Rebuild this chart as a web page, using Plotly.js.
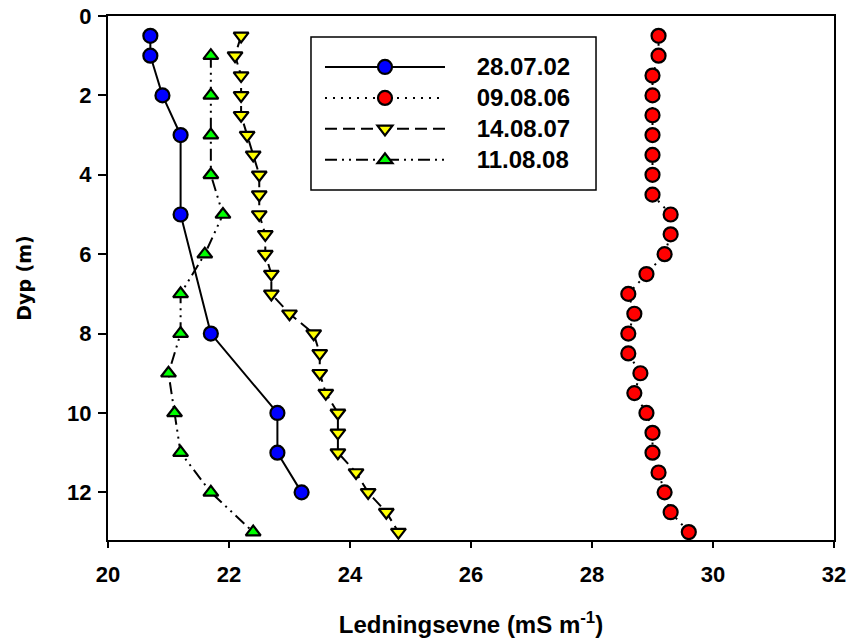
<!DOCTYPE html>
<html>
<head>
<meta charset="utf-8">
<script src="https://cdn.plot.ly/plotly-3.0.1.min.js"></script>
<style>
  html, body { margin: 0; padding: 0; background: #fff; }
  #chart { width: 854px; height: 642px; }
</style>
</head>
<body>
<div id="chart"></div>
<script>
// Conductivity profiles (mS m-1) against depth (m) for four sampling dates
const names = ['28.07.02', '09.08.06', '14.08.07', '11.08.08'];

const depth020728 = [0.5, 1, 2, 3, 5, 8, 10, 11, 12];
const cond020728  = [20.7, 20.7, 20.9, 21.2, 21.2, 21.7, 22.8, 22.8, 23.2];

const depth060809 = [0.5, 1, 1.5, 2, 2.5, 3, 3.5, 4, 4.5, 5, 5.5, 6, 6.5, 7,
                     7.5, 8, 8.5, 9, 9.5, 10, 10.5, 11, 11.5, 12, 12.5, 13];
const cond060809  = [29.1, 29.1, 29.0, 29.0, 29.0, 29.0, 29.0, 29.0, 29.0, 29.3, 29.3, 29.2, 28.9, 28.6,
                     28.7, 28.6, 28.6, 28.8, 28.7, 28.9, 29.0, 29.0, 29.1, 29.2, 29.3, 29.6];

const depth070814 = [0.5, 1, 1.5, 2, 2.5, 3, 3.5, 4, 4.5, 5, 5.5, 6, 6.5, 7,
                     7.5, 8, 8.5, 9, 9.5, 10, 10.5, 11, 11.5, 12, 12.5, 13];
const cond070814  = [22.2, 22.1, 22.2, 22.2, 22.2, 22.3, 22.4, 22.5, 22.5, 22.5, 22.6, 22.6, 22.7, 22.7,
                     23.0, 23.4, 23.5, 23.5, 23.6, 23.8, 23.8, 23.8, 24.1, 24.3, 24.6, 24.8];

const depth080811 = [1, 2, 3, 4, 5, 6, 7, 8, 9, 10, 11, 12, 13];
const cond080811  = [21.7, 21.7, 21.7, 21.7, 21.9, 21.6, 21.2, 21.2, 21.0, 21.1, 21.2, 21.7, 22.4];

const xTicks = [20, 22, 24, 26, 28, 30, 32];
const yTicks = [0, 2, 4, 6, 8, 10, 12];

const FONT = 'Liberation Sans, Arial, sans-serif';
const mline = { color: '#000', width: 2.2 };

// legend labels: a little leading space and a larger rendered size
const label = s => '<span style="font-size:24px">\u00a0\u00a0\u00a0\u00a0' + s + '\u00a0\u00a0</span>';

const traces = [
  {
    x: cond020728, y: depth020728, name: label(names[0]), mode: 'lines+markers',
    line: { color: '#000', width: 2, dash: 'solid' },
    marker: { symbol: 'circle', size: 14, color: '#0000ff', line: mline }
  },
  {
    x: cond060809, y: depth060809, name: label(names[1]), mode: 'lines+markers',
    line: { color: '#000', width: 2, dash: '2px,6px' },
    marker: { symbol: 'circle', size: 14, color: '#ff0000', line: mline }
  },
  {
    x: cond070814, y: depth070814, name: label(names[2]), mode: 'lines+markers',
    line: { color: '#000', width: 2, dash: '12px,6px' },
    marker: { symbol: 'triangle-down', size: 13, color: '#ffff00', line: mline }
  },
  {
    x: cond080811, y: depth080811, name: label(names[3]), mode: 'lines+markers',
    line: { color: '#000', width: 2, dash: '12px,5px,2px,5px,2px,5px' },
    marker: { symbol: 'triangle-up', size: 13, color: '#00ff00', line: mline }
  }
];

const layout = {
  width: 854, height: 642,
  margin: { l: 108, r: 20, t: 16, b: 102 },
  paper_bgcolor: '#fff', plot_bgcolor: '#fff',
  font: { family: FONT, color: '#000', size: 22, weight: 'bold' },
  showlegend: true,
  legend: {
    x: 0.2920, y: 0.9418, xanchor: 'left', yanchor: 'top',
    bgcolor: 'rgba(0,0,0,0)', borderwidth: 0,
    itemwidth: 120,
    font: { family: FONT, size: 21.5, color: '#000', weight: 'bold' },
    tracegroupgap: 0
  },
  // legend frame
  shapes: [{
    type: 'rect', xref: 'paper', yref: 'paper', layer: 'below',
    x0: 0.2796, x1: 0.6722, y0: 0.6679, y1: 0.9599,
    line: { color: '#000', width: 1.5 }, fillcolor: '#fff'
  }],
  xaxis: {
    range: [20, 32], tickmode: 'array', tickvals: xTicks, ticktext: xTicks.map(String),
    showgrid: false, zeroline: false,
    showline: true, linecolor: '#000', linewidth: 2, mirror: true,
    ticks: 'outside', ticklen: 6, tickwidth: 2, tickcolor: '#000',
    ticklabelstandoff: 8,
    tickfont: { family: FONT, size: 22, color: '#000', weight: 'bold' },
    title: {
      text: 'Ledningsevne (mS m<sup>-1</sup>)',
      font: { family: FONT, size: 24, color: '#000', weight: 'bold' },
      standoff: 30
    }
  },
  yaxis: {
    range: [13.2, 0], tickmode: 'array', tickvals: yTicks, ticktext: yTicks.map(String),
    showgrid: false, zeroline: false,
    showline: true, linecolor: '#000', linewidth: 2, mirror: true,
    ticks: 'outside', ticklen: 8, tickwidth: 2, tickcolor: '#000',
    ticklabelstandoff: 2,
    tickfont: { family: FONT, size: 22, color: '#000', weight: 'bold' },
    title: {
      text: 'Dyp (m)',
      font: { family: 'DejaVu Sans, sans-serif', size: 19, color: '#000', weight: 'bold' },
      standoff: 30
    }
  }
};

Plotly.newPlot('chart', traces, layout, { staticPlot: true, displayModeBar: false });
</script>
</body>
</html>
